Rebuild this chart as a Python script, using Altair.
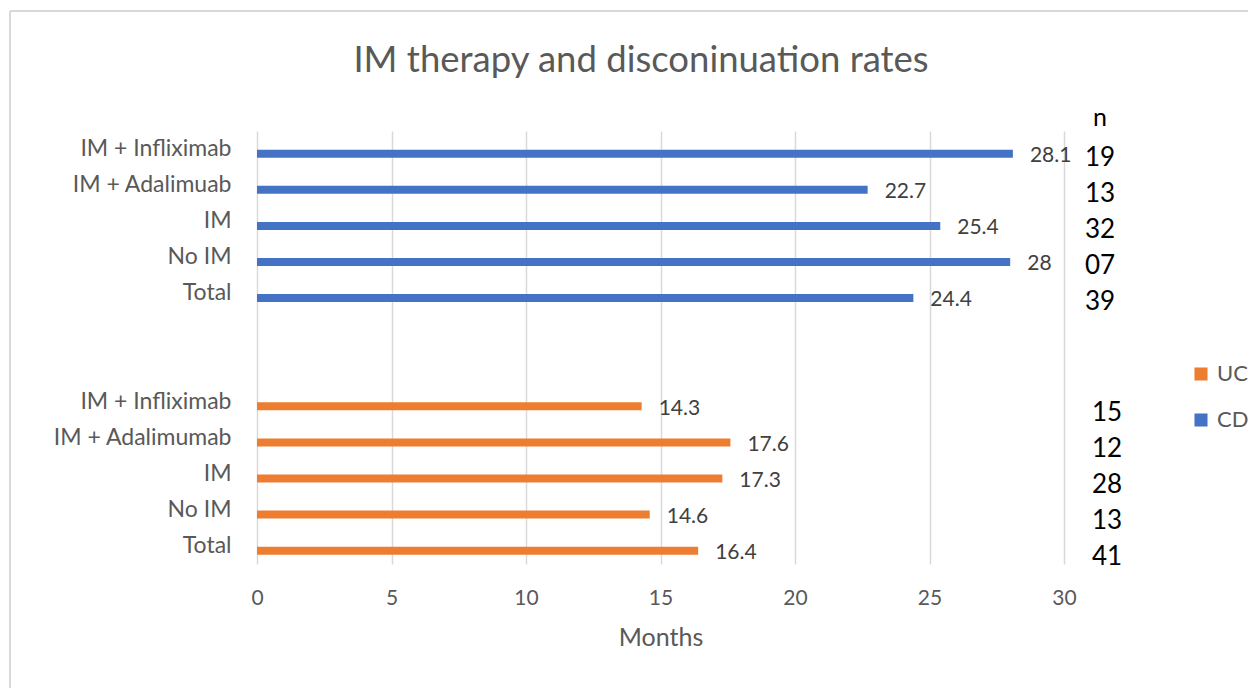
import altair as alt
import pandas as pd

# ---- data ----
groups = ["CD", "CD", "CD", "CD", "CD", "UC", "UC", "UC", "UC", "UC"]
row_labels = ["IM + Infliximab", "IM + Adalimuab", "IM", "No IM", "Total",
              "IM + Infliximab", "IM + Adalimumab", "IM", "No IM", "Total"]
months = [28.1, 22.7, 25.4, 28, 24.4, 14.3, 17.6, 17.3, 14.6, 16.4]
n_values = ["19", "13", "32", "07", "39", "15", "12", "28", "13", "41"]
gap_rows = ["gap1|", "gap2|"]
legend_order = ["UC", "CD"]
series_colors = ["#ED7D31", "#4472C4"]
x_ticks = [0, 5, 10, 15, 20, 25, 30]
n_header = ["n"]
title_text = ["IM therapy and disconinuation rates"]

keys = [f"{g}{i}|{l}" for i, (g, l) in enumerate(zip(groups, row_labels))]
domain = keys[:5] + gap_rows + keys[5:]

df = pd.DataFrame({"key": keys, "group": groups, "label": row_labels,
                   "months": months, "n": n_values})

FONT = "Lato"
GREY = "#595959"

y_enc = alt.Y(
    "key:N",
    scale=alt.Scale(domain=domain, paddingInner=0, paddingOuter=0),
    axis=alt.Axis(title=None, labelExpr="split(datum.label, '|')[1]",
                  labelFontSize=23, labelColor=GREY, labelFont=FONT,
                  labelPadding=26, ticks=False, domain=False, grid=False),
)
x_enc = alt.X(
    "months:Q",
    scale=alt.Scale(domain=[0, 30], nice=False),
    axis=alt.Axis(values=x_ticks, title="Months", grid=True, gridColor="#d9d9d9",
                  gridWidth=1.5, ticks=False, domain=False, labelFontSize=21,
                  labelFlush=False,
                  labelColor=GREY, labelFont=FONT, labelPadding=23,
                  titleFontSize=25, titleColor=GREY, titleFont=FONT,
                  titleFontWeight="normal", titlePadding=17),
)

base = alt.Chart(df)

bars = base.mark_bar(size=8, yOffset=4.7).encode(
    x=x_enc,
    y=y_enc,
    color=alt.Color(
        "group:N",
        scale=alt.Scale(domain=legend_order, range=series_colors),
        legend=alt.Legend(title=None, orient="none", legendX=933, legendY=232,
                          symbolType="square", symbolSize=170, symbolStrokeWidth=0,
                          labelFontSize=22, labelColor=GREY, labelFont=FONT,
                          rowPadding=24, labelOffset=5),
    ),
)

value_labels = base.mark_text(align="left", baseline="middle", dx=17, dy=7,
                              fontSize=21, color="#404040", font=FONT).encode(
    x="months:Q", y=alt.Y("key:N"), text=alt.Text("months:Q"))

n_cd = base.transform_filter(alt.datum.group == "CD").mark_text(
    align="center", baseline="middle", dy=9, fontSize=26, color="black", font=FONT
).encode(x=alt.value(843), y=alt.Y("key:N"), text="n:N")

n_uc = base.transform_filter(alt.datum.group == "UC").mark_text(
    align="center", baseline="middle", dy=11, fontSize=26, color="black", font=FONT
).encode(x=alt.value(850), y=alt.Y("key:N"), text="n:N")

hdr = alt.Chart(pd.DataFrame({"t": n_header})).mark_text(
    align="center", baseline="middle", fontSize=25, color="black", font=FONT
).encode(x=alt.value(843), y=alt.value(-13), text="t:N")

title = alt.Chart(pd.DataFrame({"t": title_text})).mark_text(
    align="center", baseline="middle", fontSize=36.5, color=GREY, font=FONT
).encode(x=alt.value(384), y=alt.value(-70), text="t:N")

# outer chart-area border (left and top edges visible in the reference)
border_df = pd.DataFrame({"edge": ["left", "top"]})
border_left = alt.Chart(border_df.iloc[[0]]).mark_rule(color="#d9d9d9", strokeWidth=2).encode(
    x=alt.value(-247), y=alt.value(-120), y2=alt.value(600))
border_top = alt.Chart(border_df.iloc[[1]]).mark_rule(color="#d9d9d9", strokeWidth=2).encode(
    x=alt.value(-247), x2=alt.value(1000), y=alt.value(-120))

chart = alt.layer(border_left, border_top, bars, value_labels, n_cd, n_uc, hdr, title).properties(
    width=807, height=433,
    autosize=alt.AutoSizeParams(type="none"),
    padding={"left": 249, "top": 123, "right": 184, "bottom": 124},
).configure(background="white").configure_view(stroke=None)

chart.save("out.html", embed_options={"renderer": "svg", "actions": False})
